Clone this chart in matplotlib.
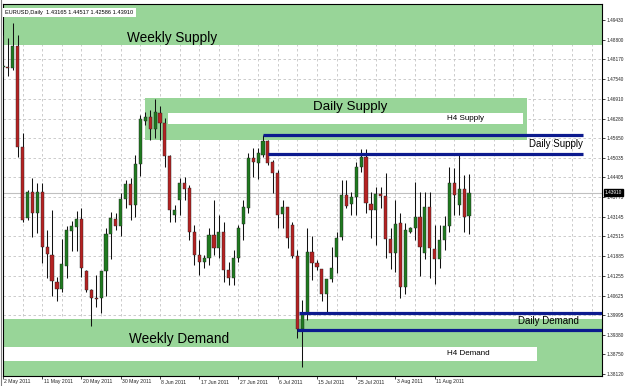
import matplotlib
matplotlib.use("Agg")
import matplotlib.pyplot as plt
from matplotlib.patches import Rectangle
from matplotlib.lines import Line2D

# ---------------- data (EURUSD Daily) ----------------
opens = [1.47928, 1.47928, 1.47896, 1.48599, 1.45372, 1.43104, 1.43935, 1.43264, 1.43935, 1.42178,
         1.41922, 1.41059, 1.40835, 1.41570, 1.42689, 1.42816, 1.43072, 1.41411, 1.40803, 1.40548,
         1.40548, 1.41411, 1.42593, 1.43072, 1.42848, 1.43711, 1.44190, 1.43519, 1.44829, 1.46203,
         1.46331, 1.45947, 1.46459, 1.46139, 1.45085, 1.43200, 1.43679, 1.44222, 1.44062, 1.42657,
         1.41922, 1.41698, 1.41826, 1.42561, 1.42146, 1.42657, 1.41442, 1.41187, 1.41826, 1.42912,
         1.43423, 1.45021, 1.44861, 1.45117, 1.45564, 1.44893, 1.44542, 1.43232, 1.43455, 1.42880,
         1.41890, 1.39557, 1.40069, 1.42018, 1.41666, 1.41474, 1.40676, 1.41155, 1.41858, 1.42497,
         1.43839, 1.43551, 1.43775, 1.44733, 1.45053, 1.43551, 1.43359, 1.43871, 1.43807, 1.42433,
         1.41986, 1.42944, 1.40899, 1.42657, 1.42784, 1.43136, 1.41986, 1.43455, 1.42114, 1.41794,
         1.42401, 1.42848, 1.44222, 1.43519, 1.44030, 1.43165]
highs = [1.48951, 1.48855, 1.49334, 1.48951, 1.45820, 1.43998, 1.44382, 1.44222, 1.44222, 1.42720,
         1.43359, 1.41219, 1.42433, 1.42848, 1.43008, 1.43328, 1.43423, 1.41442, 1.40835, 1.41283,
         1.41411, 1.42784, 1.43296, 1.43264, 1.43903, 1.44318, 1.44382, 1.45117, 1.46395, 1.46491,
         1.46554, 1.46906, 1.46682, 1.46299, 1.45117, 1.43519, 1.44382, 1.44414, 1.44158, 1.42880,
         1.42401, 1.41922, 1.42784, 1.43679, 1.43200, 1.42976, 1.41698, 1.42082, 1.42880, 1.43679,
         1.45181, 1.45340, 1.45340, 1.45756, 1.45596, 1.44957, 1.44637, 1.43679, 1.43455, 1.42976,
         1.42082, 1.40484, 1.42784, 1.42529, 1.41762, 1.41474, 1.41155, 1.42178, 1.42657, 1.44318,
         1.44318, 1.43935, 1.44893, 1.45308, 1.45308, 1.43935, 1.44094, 1.44094, 1.44542, 1.42784,
         1.43679, 1.43264, 1.42944, 1.42816, 1.44254, 1.43935, 1.43935, 1.43935, 1.42880, 1.42880,
         1.43168, 1.44733, 1.44701, 1.45149, 1.44478, 1.44517]
lows = [1.47609, 1.47641, 1.47832, 1.45053, 1.42976, 1.43040, 1.42497, 1.42625, 1.41666, 1.41187,
        1.40612, 1.40452, 1.40740, 1.41187, 1.42050, 1.42050, 1.41219, 1.40740, 1.39653, 1.40260,
        1.40069, 1.40612, 1.41794, 1.42720, 1.42529, 1.43423, 1.43040, 1.43136, 1.44446, 1.46075,
        1.45596, 1.45660, 1.45596, 1.44733, 1.42976, 1.42976, 1.43200, 1.43679, 1.42401, 1.41602,
        1.41283, 1.41506, 1.41602, 1.41922, 1.41826, 1.41059, 1.40963, 1.40963, 1.41698, 1.42401,
        1.43264, 1.44414, 1.44350, 1.45053, 1.44797, 1.43903, 1.42784, 1.42784, 1.42146, 1.41826,
        1.39270, 1.38343, 1.39845, 1.41123, 1.41442, 1.40452, 1.40101, 1.41059, 1.41347, 1.42401,
        1.43423, 1.43200, 1.43200, 1.44574, 1.43264, 1.42465, 1.42241, 1.43423, 1.41826, 1.41474,
        1.41379, 1.40548, 1.40676, 1.42625, 1.42401, 1.41251, 1.41794, 1.41187, 1.40995, 1.41506,
        1.42082, 1.42657, 1.43200, 1.43200, 1.42657, 1.42586]
closes = [1.47960, 1.47912, 1.48599, 1.45372, 1.43040, 1.43935, 1.43264, 1.43935, 1.42178, 1.41954,
          1.41091, 1.40835, 1.41634, 1.42720, 1.42848, 1.43072, 1.41506, 1.40803, 1.40548, 1.40532,
          1.41411, 1.42593, 1.43104, 1.42848, 1.43711, 1.44190, 1.43519, 1.44829, 1.46267, 1.46331,
          1.45947, 1.46491, 1.46139, 1.45085, 1.43359, 1.43359, 1.44222, 1.44030, 1.42657, 1.41922,
          1.41698, 1.41826, 1.42561, 1.42146, 1.42657, 1.41442, 1.41187, 1.41826, 1.42784, 1.43455,
          1.45021, 1.44893, 1.45181, 1.45564, 1.44861, 1.44542, 1.43200, 1.43455, 1.42465, 1.41890,
          1.39557, 1.40037, 1.42018, 1.41666, 1.41538, 1.40676, 1.41155, 1.41506, 1.42465, 1.43839,
          1.43487, 1.43775, 1.44733, 1.45053, 1.43583, 1.43359, 1.43871, 1.43807, 1.42433, 1.41986,
          1.42912, 1.40899, 1.42720, 1.42784, 1.43136, 1.42178, 1.43455, 1.42146, 1.41794, 1.42401,
          1.42848, 1.44222, 1.43839, 1.44030, 1.43136, 1.43910]

date_labels = ["2 May 2011", "11 May 2011", "20 May 2011", "30 May 2011", "8 Jun 2011",
               "17 Jun 2011", "27 Jun 2011", "6 Jul 2011", "15 Jul 2011", "25 Jul 2011",
               "3 Aug 2011", "11 Aug 2011"]
date_label_bars = [0, 8, 16, 24, 32, 40, 48, 56, 64, 72, 80, 88]
price_ticks = [1.49430, 1.48800, 1.48170, 1.47540, 1.46910, 1.46280, 1.45650, 1.45035, 1.44405,
               1.43775, 1.43145, 1.42515, 1.41885, 1.41255, 1.40625, 1.39995, 1.39380, 1.38750, 1.38120]
symbol_title = "EURUSD,Daily  1.43165 1.44517 1.42586 1.43910"
last_price = 1.43910

# zones: (bar_start, bar_end, price_low, price_high)
weekly_supply = (1.4863, 1.5100)
weekly_demand = (1.3700, 1.39877)
daily_supply_zone = (29.0, 106.8, 1.45596, 1.46938)
h4_supply_zone = (33.7, 106.0, 1.46107, 1.46459)
h4_demand_zone = (-5.0, 108.9, 1.38535, 1.38985)
daily_supply_lines = [(53.0, 118.2, 1.45756), (54.0, 118.2, 1.45149)]
daily_demand_lines = [(60.3, 130.0, 1.40069), (60.0, 130.0, 1.39510)]

# ---------------- figure ----------------
W, H = 625, 386
fig = plt.figure(figsize=(W / 100, H / 100), dpi=100)
fig.patch.set_facecolor("white")
ax = fig.add_axes([3 / W, 1 - 376 / H, 599 / W, 372 / H])
ax.set_facecolor("white")
XMIN, XMAX = 0.1, 122.1
YMIN, YMAX = 1.38056, 1.49941
ax.set_xlim(XMIN, XMAX)
ax.set_ylim(YMIN, YMAX)

GREEN_ZONE = "#98d598"
grid_kw = dict(color="#c4c4c4", lw=0.6, ls=(0, (3, 3)), zorder=0.5)
for p in price_ticks:
    ax.axhline(p, **grid_kw)
for b in range(4, 124, 4):
    ax.axvline(b, **grid_kw)

# zones
ax.axhspan(*weekly_supply, color=GREEN_ZONE, lw=0, zorder=1)
ax.axhspan(*weekly_demand, color=GREEN_ZONE, lw=0, zorder=1)
x0, x1, y0, y1 = daily_supply_zone
ax.add_patch(Rectangle((x0, y0), x1 - x0, y1 - y0, fc=GREEN_ZONE, lw=0, zorder=1))
x0, x1, y0, y1 = h4_supply_zone
ax.add_patch(Rectangle((x0, y0), x1 - x0, y1 - y0, fc="white", lw=0, zorder=1.1))
x0, x1, y0, y1 = h4_demand_zone
ax.add_patch(Rectangle((x0, y0), x1 - x0, y1 - y0, fc="white", lw=0, zorder=1.1))

# bid line
ax.axhline(last_price, color="#c0c0c0", lw=0.8, zorder=1.5)

# candles
UP, DOWN = "#1f7a1f", "#b52222"
for i, (o, h, l, c) in enumerate(zip(opens, highs, lows, closes)):
    ax.plot([i, i], [l, h], color="#111111", lw=0.75, zorder=3, solid_capstyle="butt")
    lo, hi = min(o, c), max(o, c)
    hgt = max(hi - lo, 0.00012)
    col = UP if c >= o else DOWN
    ax.add_patch(Rectangle((i - 0.32, lo), 0.64, hgt, fc=col, ec="#222222", lw=0.3, zorder=4))

# blue lines
BLUE = "#0c1a8e"
for xs, xe, p in daily_supply_lines + daily_demand_lines:
    ax.plot([xs, xe], [p, p], color=BLUE, lw=2.3, zorder=5, solid_capstyle="butt")

FONT = "Liberation Sans"
def ptext(x, y, s, size, ha="center"):
    ax.text(x, y, s, fontsize=size, family=FONT, ha=ha, va="center", color="black", zorder=6)

ptext(34.5, 1.48856, "Weekly Supply", 9.8)
ptext(70.8, 1.46650, "Daily Supply", 9.6)
ptext(94.2, 1.46283, "H4 Supply", 5.8)
ptext(112.8, 1.45460, "Daily Supply", 7.0)
ptext(111.2, 1.39800, "Daily Demand", 7.0)
ptext(35.8, 1.39239, "Weekly Demand", 9.8)
ptext(94.8, 1.38760, "H4 Demand", 5.8)

# axes styling
for s in ax.spines.values():
    s.set_color("black")
    s.set_linewidth(0.8)
ax.yaxis.tick_right()
ax.set_yticks(price_ticks)
ax.set_yticklabels([f"{p:.5f}" for p in price_ticks], fontsize=3.45, family=FONT, color="#222222")
ax.tick_params(axis="y", length=2.0, width=0.6, pad=1.0, colors="#222222")
ax.set_xticks(date_label_bars)
ax.set_xticklabels([])
ax.tick_params(axis="x", length=2.5, width=0.6, direction="out", colors="#222222")
for b, lab in zip(date_label_bars, date_labels):
    ax.annotate(lab, xy=(b, 0), xycoords=("data", "axes fraction"), xytext=(1.5, -6),
                textcoords="offset pixels", fontsize=3.7, family=FONT, color="#222222",
                ha="left", va="center", annotation_clip=False)

# current price label box on right axis
ax.annotate(f"{last_price:.5f}", xy=(1, last_price), xycoords=("axes fraction", "data"),
            xytext=(3, 0), textcoords="offset pixels", fontsize=3.45, family=FONT,
            color="white", ha="left", va="center", zorder=10, annotation_clip=False,
            bbox=dict(boxstyle="square,pad=0.25", fc="black", ec="black"))

# title box
ax.text(0.004, 0.985, symbol_title, transform=ax.transAxes, fontsize=4.1, family=FONT,
        ha="left", va="top", color="black", zorder=9,
        bbox=dict(boxstyle="square,pad=0.35", fc="white", ec="none"))

# outer window frame
fig.add_artist(Line2D([0.5 / W, 0.5 / W], [0, 1], color="#808080", lw=0.8))

fig.savefig("out.png", dpi=100, facecolor="white")
